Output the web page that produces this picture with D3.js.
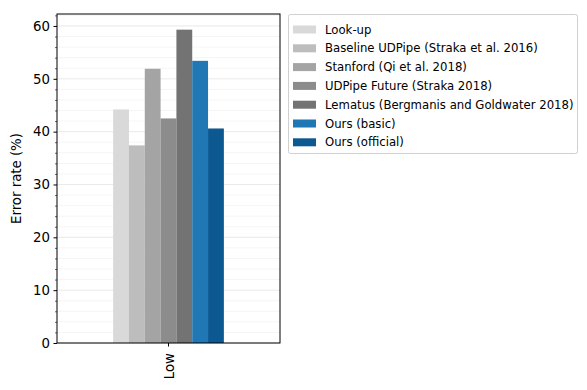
<!DOCTYPE html>
<html><head><meta charset="utf-8">
<script src="https://cdn.jsdelivr.net/npm/d3@7"></script>
<style>body{margin:0;background:#fff;}svg{display:block;font-family:"DejaVu Sans",sans-serif;}</style>
</head><body>
<svg id="c" width="587" height="390"></svg>
<script>
const categories = ["Low"];
const seriesNames = ["Look-up","Baseline UDPipe (Straka et al. 2016)","Stanford (Qi et al. 2018)","UDPipe Future (Straka 2018)","Lematus (Bergmanis and Goldwater 2018)","Ours (basic)","Ours (official)"];
const seriesValues = [44.2, 37.4, 51.9, 42.5, 59.3, 53.4, 40.6];
const seriesColors = ["#d9d9d9","#bdbdbd","#a4a4a4","#8c8c8c","#737373","#1f77b4","#0c5891"];
const yTicks = [0,10,20,30,40,50,60];
const yLabel = "Error rate (%)";

const svg = d3.select("#c");
const L=57, R=280, T=14, B=343;
const y = d3.scaleLinear().domain([0, 59.3*1.05]).range([B, T]);
const x = d3.scaleBand().domain(categories).range([L, R]).paddingInner(0).paddingOuter(0);
const groupW = (R-L)*0.4965;
const xs = d3.scaleBand().domain(seriesNames).range([0, groupW]);
const cx = x(categories[0]) + x.bandwidth()/2;

// minor grid
const minor = d3.range(0, 62.3, 2).filter(v => v % 10 !== 0);
svg.append("g").selectAll("line").data(minor).join("line")
  .attr("x1",L).attr("x2",R).attr("y1",d=>y(d)).attr("y2",d=>y(d))
  .attr("stroke","#f3f3f3").attr("stroke-width",0.8);
svg.append("g").selectAll("line").data(yTicks).join("line")
  .attr("x1",L).attr("x2",R).attr("y1",d=>y(d)).attr("y2",d=>y(d))
  .attr("stroke","#e3e3e3").attr("stroke-width",0.8);

// bars
svg.append("g").selectAll("rect").data(seriesValues).join("rect")
  .attr("x",(d,i)=>cx - groupW/2 + xs(seriesNames[i]))
  .attr("width",xs.bandwidth())
  .attr("y",d=>y(d)).attr("height",d=>y(0)-y(d))
  .attr("fill",(d,i)=>seriesColors[i]);

// frame
svg.append("rect").attr("x",L).attr("y",T).attr("width",R-L).attr("height",B-T)
  .attr("fill","none").attr("stroke","#000").attr("stroke-width",1);

// y axis
const yAxis = d3.axisLeft(y).tickValues(yTicks).tickSize(3.5).tickPadding(3.5).tickFormat(d3.format("d"));
const gy = svg.append("g").attr("transform",`translate(${L},0)`).call(yAxis);
gy.select(".domain").remove();
gy.selectAll("text").attr("font-size","13.3px").attr("fill","#000").attr("font-family","DejaVu Sans");
gy.selectAll("line").attr("stroke","#000");
const yMinor = d3.axisLeft(y).tickValues(minor).tickSize(2).tickFormat("");
const gym = svg.append("g").attr("transform",`translate(${L},0)`).call(yMinor);
gym.select(".domain").remove();
gym.selectAll("line").attr("stroke","#000").attr("stroke-width",0.6);

// x axis
const gx = svg.append("g").attr("transform",`translate(0,${B})`).call(d3.axisBottom(x).tickSize(3.5).tickFormat(""));
gx.select(".domain").remove();
gx.selectAll("line").attr("stroke","#000");
svg.append("text").attr("transform",`translate(${cx+5},${B+10}) rotate(-90)`)
  .attr("text-anchor","end").attr("font-size","13.3px").text(categories[0]);

svg.append("text").attr("transform",`translate(21,${(T+B)/2}) rotate(-90)`)
  .attr("text-anchor","middle").attr("font-size","13.3px").text(yLabel);

// legend
const lg = svg.append("g");
lg.append("rect").attr("x",288.5).attr("y",14.5).attr("width",289).attr("height",139)
  .attr("rx",2).attr("fill","#fff").attr("stroke","#d0d0d0").attr("stroke-width",1);
seriesNames.forEach((n,i)=>{
  const yy = 29.5 + i*18.8;
  lg.append("rect").attr("x",293).attr("y",yy-4).attr("width",23).attr("height",8).attr("fill",seriesColors[i]);
  lg.append("text").attr("x",325).attr("y",yy+4).attr("font-size","11.7px").text(n);
});
</script>
</body></html>
